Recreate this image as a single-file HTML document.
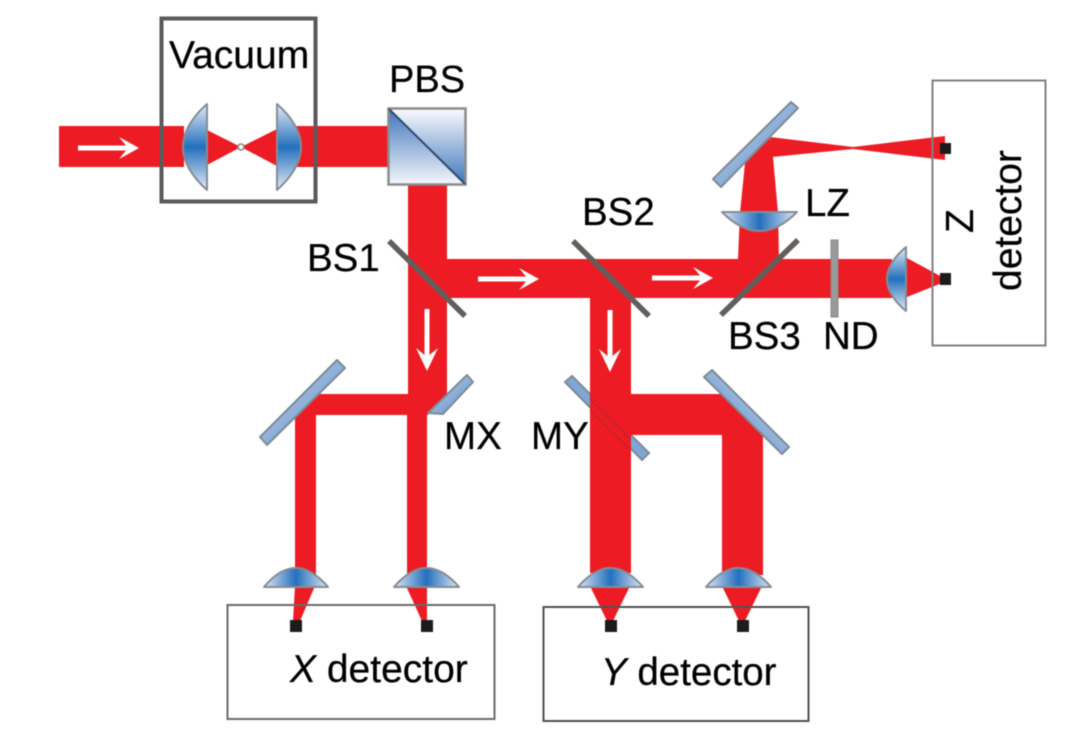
<!DOCTYPE html>
<html><head><meta charset="utf-8"><style>
html,body{margin:0;padding:0;background:#fff;width:1080px;height:736px;overflow:hidden}
svg{display:block;filter:blur(.55px)}
text{font-family:"Liberation Sans",sans-serif;font-size:38.5px;fill:#000;stroke:#000;stroke-width:.25px}
</style></head><body>
<svg xmlns="http://www.w3.org/2000/svg" width="1080" height="736" viewBox="0 0 1080 736">
<defs>
<linearGradient id="lv" x1="0" y1="0" x2="0" y2="1"><stop offset="0" stop-color="#e6ebf4"/><stop offset=".5" stop-color="#2470bd"/><stop offset="1" stop-color="#e6ebf4"/></linearGradient>
<linearGradient id="lh" x1="0" y1="0" x2="1" y2="0"><stop offset="0" stop-color="#dfe6f2"/><stop offset=".5" stop-color="#2470bd"/><stop offset="1" stop-color="#dfe6f2"/></linearGradient>
<linearGradient id="pa" x1="0" y1="0" x2="0" y2="1"><stop offset="0" stop-color="#3f76bb"/><stop offset="1" stop-color="#f4f6fb"/></linearGradient>
<linearGradient id="pb" x1="0" y1="0" x2="0" y2="1"><stop offset="0" stop-color="#fafbfe"/><stop offset="1" stop-color="#3f76bb"/></linearGradient>
<linearGradient id="m1" x1="0" y1="0" x2="1" y2="1"><stop offset="0" stop-color="#cfdcec"/><stop offset="1" stop-color="#4f86c6"/></linearGradient>
<linearGradient id="m2" x1="1" y1="0" x2="0" y2="1"><stop offset="0" stop-color="#cfdcec"/><stop offset="1" stop-color="#4f86c6"/></linearGradient>
</defs>

<polygon points="565,382 572,376 649,453 642,460" fill="#7fa6d4" stroke="#7f8a96" stroke-width="2"/>

<g fill="#ed1c24">
<rect x="59" y="126" width="125" height="41"/>
<rect x="290" y="126" width="100" height="41"/>
<polygon points="207,130 241,147 207,165"/>
<polygon points="277,129 241,147 277,166"/>
<rect x="408" y="184" width="39" height="212"/>
<rect x="447" y="259" width="445" height="39"/>
<rect x="590" y="298" width="41" height="275"/>
<polygon points="590,394 721,394 763,435 590,435"/>
<polygon points="722,434 763,434 763,575 722,575"/>
<polygon points="319,394 447,394 428,415 295,415"/>
<rect x="407" y="394" width="20" height="180"/>
<polygon points="295,414 316,414 316,575 295,575"/>
<polygon points="738,259 779,259 778,212 740,212"/>
<polygon points="740,213 745,163 770,138 773,157 778,213"/>
<polygon points="770,137 853,147 853,149 772,157"/>
<polygon points="853,147 945,136 945,160 853,149"/>
<polygon points="907,258 942,277 942,283 907,297"/>
<polygon points="295,586 315,586 300,621 293,621"/>
<polygon points="406,586 427,586 427,621 422,621"/>
<polygon points="590,586 630,586 613,621 607,621"/>
<polygon points="722,586 762,586 745,621 739,621"/>
</g>

<g fill="#fff">
<polygon points="78,145.500 126,145.500 119,137 139,148 119,159 126,150.500 78,150.500"/>
<polygon points="478,276.500 526,276.500 519,268 539,279 519,290 526,281.500 478,281.500"/>
<polygon points="652,275.500 700,275.500 693,267 713,278 693,289 700,280.500 652,280.500"/>
<polygon points="424.500,309 429.500,309 429.500,355 438,348 427,371 416,348 424.500,355"/>
<polygon points="607.500,310 612.500,310 612.500,356 621,349 610,372 599,349 607.500,356"/>
</g>

<rect x="161.500" y="18.500" width="154" height="183" fill="none" stroke="#5a5a5c" stroke-width="4"/>
<rect x="932.500" y="80.500" width="113" height="265" fill="none" stroke="#808080" stroke-width="2"/>
<rect x="227.500" y="605" width="267" height="114" fill="none" stroke="#6a6a6a" stroke-width="2"/>
<rect x="543.500" y="607" width="265" height="114" fill="none" stroke="#505050" stroke-width="2"/>

<circle cx="241" cy="147" r="3" fill="#fff" stroke="#7d8a80" stroke-width="1.600"/>

<g stroke="#868c94" stroke-width="2" stroke-linejoin="round">
<path d="M207 104Q159 147 207 190Z" fill="url(#lv)"/>
<path d="M277 104Q325 147 277 190Z" fill="url(#lv)"/>
<path d="M906 247Q868 279 906 311Z" fill="url(#lv)"/>
<path d="M722 212Q759.500 250 797 212Z" fill="url(#lh)"/>
<path d="M264 587Q295.500 549 328 587Z" fill="url(#lh)"/>
<path d="M394 587Q426.500 549 459 587Z" fill="url(#lh)"/>
<path d="M578 587Q610.500 549 643 587Z" fill="url(#lh)"/>
<path d="M706 587Q738.500 549 771 587Z" fill="url(#lh)"/>
</g>

<polygon points="389,109 465,184 389,184" fill="url(#pa)"/>
<polygon points="389,109 465,109 465,184" fill="url(#pb)"/>
<rect x="388.500" y="108.500" width="77" height="76" fill="none" stroke="#8c8c8c" stroke-width="2.500"/>
<line x1="389" y1="109" x2="465" y2="184" stroke="#2f4a6c" stroke-width="2"/>

<g stroke="#625e5b" stroke-width="5.500" fill="none">
<line x1="389" y1="241" x2="465" y2="316"/>
<line x1="573" y1="241" x2="649" y2="316"/>
<line x1="721" y1="315" x2="798" y2="240"/>
</g>
<rect x="831" y="240" width="7" height="77" fill="#9a9a9a" stroke="#888" stroke-width="1"/>

<g stroke="#7f8a96" stroke-width="2" stroke-linejoin="round">
<polygon points="260,437 267,445 345,368 337,360" fill="url(#m1)"/>
<polygon points="428,413 443,414 473,382 467,375" fill="url(#m1)"/>
<polygon points="704,377 712,370 789,447 782,454" fill="url(#m2)"/>
<polygon points="713,179 721,187 798,108 791,102" fill="url(#m1)"/>
</g>

<g stroke="#7a3038" stroke-width="1" stroke-dasharray="2 2" fill="none">
<line x1="590" y1="399" x2="631" y2="440"/>
<line x1="590" y1="410" x2="629" y2="449"/>
</g>

<g fill="#1c1c1c">
<rect x="940" y="143" width="11" height="11"/>
<rect x="940" y="273" width="11" height="12"/>
<rect x="290" y="620" width="12" height="12"/>
<rect x="421" y="620" width="12" height="12"/>
<rect x="605" y="620" width="12" height="12"/>
<rect x="737" y="620" width="12" height="12"/>
</g>

<text x="169" y="68" style="font-size:39px">Vacuum</text>
<text x="389" y="92" style="font-size:38px">PBS</text>
<text x="307" y="271">BS1</text>
<text x="582" y="225">BS2</text>
<text x="805" y="216">LZ</text>
<text x="728" y="349">BS3</text>
<text x="823" y="349">ND</text>
<text x="444" y="449">MX</text>
<text x="531" y="449">MY</text>
<text x="290" y="682" style="font-size:39px"><tspan font-style="italic">X</tspan> detector</text>
<text x="601" y="685" style="font-size:38.500px"><tspan font-style="italic">Y</tspan> detector</text>
<text transform="translate(973 233) rotate(-90)" style="font-size:39px">Z</text>
<text transform="translate(1021 291) rotate(-90)" style="font-size:39px">detector</text>
</svg>
</body></html>
